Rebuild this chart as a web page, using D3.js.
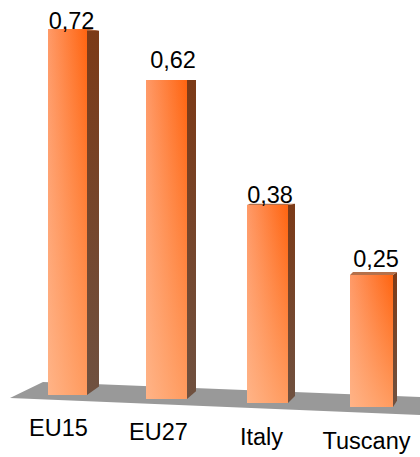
<!DOCTYPE html>
<html>
<head>
<meta charset="utf-8">
<script src="https://cdn.jsdelivr.net/npm/d3@7"></script>
<style>
    html, body { margin: 0; padding: 0; background: #fff; }
    text { font-family: "Liberation Sans", Arial, sans-serif; fill: #000; }
</style>
</head>
<body>
<div id="chart"></div>
<script>
const categories = ["EU15", "EU27", "Italy", "Tuscany"];
const values = [0.72, 0.62, 0.38, 0.25];
const value_labels = ["0,72", "0,62", "0,38", "0,25"];

function show_chart() {
    const width = 420;
    const height = 457;
    const font_size = 23.5;

    const svg = d3.select("#chart").append("svg")
        .attr("width", width)
        .attr("height", height)
        .style("display", "block");

    // bars step along a tilted floor in perspective, so positions run on the bar index
    const index = [0, 1, 2, 3];
    const xLeft = d3.scaleLinear().domain(index).range([48, 146, 247, 350]);
    const barWidth = d3.scaleLinear().domain(index).range([39, 41, 41, 43]);
    const sideWidth = d3.scaleLinear().domain(index).range([12, 9, 7, 4]);
    const yBase = d3.scaleLinear().domain([0, 3]).range([395, 407]);
    const yLen = d3.scaleLinear().domain([0.25, 0.38, 0.62, 0.72]).range([132, 198, 319, 366]);
    const labelBase = d3.scaleLinear().domain([0, 3]).range([436, 449]);

    // nudges of the labels from the bar
    const value_dx = [4, 6.5, 2.5, 4.5];
    const value_dy = [0, -12, -2, -8];
    const cat_dx = [-9, -8, -6, -5];

    const defs = svg.append("defs");
    const front_grad = defs.append("linearGradient")
        .attr("id", "front_grad")
        .attr("x1", 0).attr("x2", 1).attr("y1", 0).attr("y2", 0);
    front_grad.append("stop").attr("offset", "0%").attr("stop-color", "#ff9a68");
    front_grad.append("stop").attr("offset", "100%").attr("stop-color", "#ff6410");

    const fade_grad = defs.append("linearGradient")
        .attr("id", "fade_grad")
        .attr("x1", 0).attr("x2", 0).attr("y1", 0).attr("y2", 1);
    fade_grad.append("stop").attr("offset", "0%").attr("stop-color", "#ffc8a0").attr("stop-opacity", 0);
    fade_grad.append("stop").attr("offset", "100%").attr("stop-color", "#ffc8a0").attr("stop-opacity", 0.55);

    const side_grad = defs.append("linearGradient")
        .attr("id", "side_grad")
        .attr("x1", 0).attr("x2", 0).attr("y1", 0).attr("y2", 1);
    side_grad.append("stop").attr("offset", "0%").attr("stop-color", "#7c3a17");
    side_grad.append("stop").attr("offset", "100%").attr("stop-color", "#6f5140");

    // floor
    const line = d3.line();
    svg.append("path")
        .attr("d", line([[10, 398], [43, 382], [420, 397], [420, 415]]) + "Z")
        .attr("fill", "#999999");

    const bars = svg.selectAll("g.bar")
        .data(values)
        .join("g")
        .attr("class", "bar");

    // side face
    bars.append("path")
        .attr("d", (d, i) => {
            const x = xLeft(i) + barWidth(i);
            const s = sideWidth(i);
            const top = yBase(i) - yLen(d);
            return line([[x, top], [x + s, top - 5.5 + s * 0.6], [x + s, yBase(i) - 5 - s * 0.3], [x, yBase(i)]]) + "Z";
        })
        .attr("fill", "url(#side_grad)");

    // top face, only shows on the low bars
    bars.append("path")
        .attr("d", (d, i) => {
            const x = xLeft(i);
            const w = barWidth(i);
            const s = sideWidth(i);
            const top = yBase(i) - yLen(d);
            return line([[x, top], [x + w, top], [x + w + s, top - 5.5 + s * 0.6], [x + 3, top - 5.5 + s * 0.6]]) + "Z";
        })
        .attr("fill", "#b5704a");

    // front face
    bars.append("rect")
        .attr("x", (d, i) => xLeft(i))
        .attr("y", (d, i) => yBase(i) - yLen(d))
        .attr("width", (d, i) => barWidth(i))
        .attr("height", d => yLen(d))
        .attr("fill", "url(#front_grad)");
    bars.append("rect")
        .attr("x", (d, i) => xLeft(i))
        .attr("y", (d, i) => yBase(i) - yLen(d))
        .attr("width", (d, i) => barWidth(i))
        .attr("height", d => yLen(d))
        .attr("fill", "url(#fade_grad)");

    // value labels
    svg.selectAll("text.value")
        .data(value_labels)
        .join("text")
        .attr("class", "value")
        .attr("x", (d, i) => xLeft(i) + barWidth(i) / 2 + value_dx[i])
        .attr("y", (d, i) => yBase(i) - yLen(values[i]) + value_dy[i])
        .attr("text-anchor", "middle")
        .attr("font-size", font_size)
        .text(d => d);

    // category labels
    svg.selectAll("text.category")
        .data(categories)
        .join("text")
        .attr("class", "category")
        .attr("x", (d, i) => xLeft(i) + barWidth(i) / 2 + cat_dx[i])
        .attr("y", (d, i) => labelBase(i))
        .attr("text-anchor", "middle")
        .attr("font-size", font_size)
        .text(d => d);
}

show_chart();
</script>
</body>
</html>
